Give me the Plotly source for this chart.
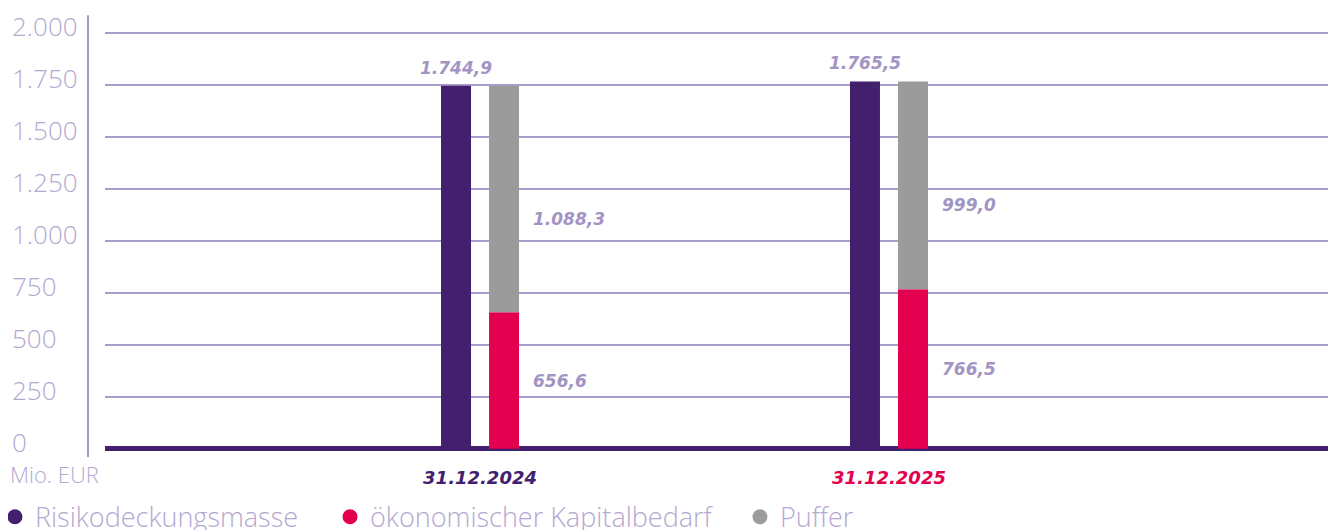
import plotly.graph_objects as go

categories = ["31.12.2024", "31.12.2025"]
category_colors = ["#42206e", "#e3004f"]
risikodeckungsmasse = [1744.9, 1765.5]
kapitalbedarf = [656.6, 766.5]
puffer = [1088.3, 999.0]
y_ticks = [0, 250, 500, 750, 1000, 1250, 1500, 1750, 2000]
series_names = ["Risikodeckungsmasse", "ökonomischer Kapitalbedarf", "Puffer"]


def de(v, dec=1):
    s = f"{v:,.{dec}f}"
    return s.replace(",", "X").replace(".", ",").replace("X", ".")


C_PURPLE = "#42206e"
C_RED = "#e3004f"
C_GRAY = "#9b9b9b"
C_LIGHT = "#b3a9d0"
C_LABEL = "#a295c3"
C_GRID = "#a99ccb"

xs = list(range(len(categories)))
W = 0.0733
GAP = 0.0587

fig = go.Figure()
fig.add_trace(go.Bar(x=xs, y=risikodeckungsmasse, width=W, offset=-GAP - W / 2,
                     marker=dict(color=C_PURPLE, line=dict(width=0)), showlegend=False))
fig.add_trace(go.Bar(x=xs, y=kapitalbedarf, width=W, offset=GAP - W / 2,
                     marker=dict(color=C_RED, line=dict(width=0)), showlegend=False))
fig.add_trace(go.Bar(x=xs, y=puffer, base=kapitalbedarf, width=W, offset=GAP - W / 2,
                     marker=dict(color=C_GRAY, line=dict(width=0)), showlegend=False))

# legend entries (circle markers), each in its own legend box
legend_ids = ["legend", "legend2", "legend3"]
for name, col, lid in zip(series_names, [C_PURPLE, C_RED, C_GRAY], legend_ids):
    fig.add_trace(go.Scatter(x=[None], y=[None], mode="markers", name=name, legend=lid,
                             marker=dict(symbol="circle", size=15, color=col)))

annotations = []
lab_font = dict(family="DejaVu Sans", size=17, color=C_LABEL, weight=700, style="italic")
for i, x in enumerate(xs):
    annotations.append(dict(x=x - GAP, y=risikodeckungsmasse[i], text=de(risikodeckungsmasse[i]),
                            showarrow=False, yanchor="bottom", yshift=6, font=lab_font))
    annotations.append(dict(x=x + GAP + W / 2, y=kapitalbedarf[i] + puffer[i] / 2, text=de(puffer[i]),
                            showarrow=False, xanchor="left", xshift=12, yshift=-20, font=lab_font))
    annotations.append(dict(x=x + GAP + W / 2, y=kapitalbedarf[i] / 2, text=de(kapitalbedarf[i]),
                            showarrow=False, xanchor="left", xshift=12, font=lab_font))

# y tick labels (left aligned, slightly above their gridlines)
for v in y_ticks:
    annotations.append(dict(xref="paper", yref="y", x=-0.0772, y=v, text=de(v, 0),
                            xanchor="left", yanchor="middle", yshift=7, showarrow=False,
                            font=dict(family="Open Sans", size=26, color=C_LIGHT, weight=300)))

annotations.append(dict(xref="paper", yref="paper", x=-0.0785, y=-0.048, text="Mio. EUR",
                        xanchor="left", yanchor="middle", showarrow=False,
                        font=dict(family="Open Sans", size=22, color=C_LIGHT, weight=300)))

ticktext_x = [f"<span style='color:{c}'>{t}</span>" for t, c in zip(categories, category_colors)]

leg_common = dict(orientation="h", xanchor="left", y=-0.091, yanchor="top",
                  font=dict(family="Open Sans", size=27, color=C_LIGHT, weight=300),
                  itemwidth=30, bgcolor="rgba(0,0,0,0)")

fig.update_layout(
    width=1328, height=522,
    margin=dict(l=97, r=0, t=8, b=77, autoexpand=False),
    paper_bgcolor="white", plot_bgcolor="white",
    barmode="overlay",
    separators=",.",
    annotations=annotations,
    shapes=[dict(type="line", xref="paper", yref="paper", x0=-0.0138, x1=-0.0138, y0=-0.009, y1=1.002,
                 line=dict(color="#a497c6", width=2))],
    xaxis=dict(range=[-0.917, 2.093], tickvals=xs, ticktext=ticktext_x, showgrid=False,
               zeroline=False, showline=False, ticks="", automargin=False, ticklabelstandoff=12,
               tickfont=dict(family="DejaVu Sans", size=18, weight=700, style="italic")),
    yaxis=dict(range=[-20, 2080], tickvals=y_ticks, showticklabels=False, showgrid=True,
               gridcolor=C_GRID, gridwidth=1.5, zeroline=True, zerolinecolor=C_PURPLE,
               zerolinewidth=5, showline=False, ticks="", automargin=False),
    legend=dict(x=-0.0894, **leg_common),
    legend2=dict(x=0.1828, **leg_common),
    legend3=dict(x=0.5158, **leg_common),
)

fig.write_html("out.html")
